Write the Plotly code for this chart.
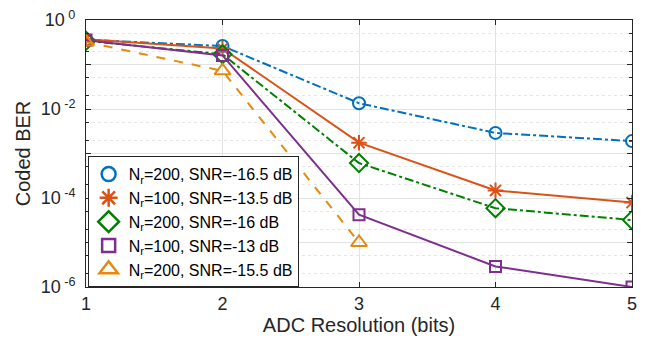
import plotly.graph_objects as go

# ADC resolution (bits) and coded BER for each configuration
bits = [1, 2, 3, 4, 5]
ber_200_m165 = [0.36, 0.26, 0.0135, 0.0029, 0.0019]
ber_100_m135 = [0.37, 0.23, 1.75e-3, 1.48e-4, 7.9e-5]
ber_200_m16 = [0.34, 0.17, 6.1e-4, 5.9e-5, 3.2e-5]
ber_100_m13 = [0.35, 0.16, 4.2e-5, 2.9e-6, 1.0e-6]
bits_short = [1, 2, 3]
ber_200_m155 = [0.32, 0.072, 1.0e-5]

labels = [
    "N<sub>r</sub>=200, SNR=-16.5 dB",
    "N<sub>r</sub>=100, SNR=-13.5 dB",
    "N<sub>r</sub>=200, SNR=-16 dB",
    "N<sub>r</sub>=100, SNR=-13 dB",
    "N<sub>r</sub>=200, SNR=-15.5 dB",
]
ytick_vals = [1e-6, 1e-5, 1e-4, 1e-3, 1e-2, 1e-1, 1e0]
ytick_text = ["10<sup> -6</sup>", "", "10<sup> -4</sup>", "", "10<sup> -2</sup>", "", "10<sup> 0</sup>"]

series = [
    (bits, ber_200_m165, "#0072BD", "dashdot", "circle-open", 12),
    (bits, ber_100_m135, "#D95319", "solid", "asterisk-open", 13),
    (bits, ber_200_m16, "#008000", "dashdot", "diamond-open", 14),
    (bits, ber_100_m13, "#7E2F8E", "solid", "square-open", 11),
    (bits_short, ber_200_m155, "#E8890C", "dash", "triangle-up-open", 14),
]

fig = go.Figure()
for (x, y, color, dash, symbol, size), name in zip(series, labels):
    fig.add_trace(go.Scatter(
        x=x, y=y, name=name, mode="lines+markers", showlegend=False,
        line=dict(color=color, width=2, dash=dash),
        marker=dict(symbol=symbol, size=size, color=color,
                    line=dict(color=color, width=2)),
    ))
    # marker-only legend entry
    fig.add_trace(go.Scatter(
        x=[None], y=[None], name=name, mode="markers",
        marker=dict(symbol=symbol, size=size + 2, color=color,
                    line=dict(color=color, width=2.5)),
    ))

font_family = "Liberation Sans, Arial, sans-serif"
fig.update_layout(
    width=645, height=343,
    margin=dict(l=86, r=8, t=17, b=56),
    paper_bgcolor="white", plot_bgcolor="white",
    font=dict(family=font_family, color="#262626"),
    showlegend=True,
    legend=dict(
        x=0.003, y=0.49, xanchor="left", yanchor="top",
        bgcolor="white", bordercolor="#262626", borderwidth=1,
        font=dict(size=16, color="#000000"),
        itemwidth=30, tracegroupgap=0,
    ),
    xaxis=dict(
        range=[1, 5], tickvals=bits, ticks="inside", ticklen=5,
        tickcolor="#262626", showline=True, linecolor="#262626", linewidth=1,
        mirror="ticks", showgrid=True, gridcolor="#E3E3E3", zeroline=False,
        tickfont=dict(size=18),
        title=dict(text="ADC Resolution (bits)", font=dict(size=20), standoff=4),
    ),
    yaxis=dict(
        type="log", range=[-6, 0], tickvals=ytick_vals, ticktext=ytick_text,
        ticks="inside", ticklen=5, tickcolor="#262626", ticklabelstandoff=6,
        showline=True, linecolor="#262626", linewidth=1, mirror="ticks",
        showgrid=True, gridcolor="#E3E3E3", zeroline=False,
        tickfont=dict(size=18),
        minor=dict(ticks="inside", ticklen=3, tickcolor="#262626",
                   showgrid=True, gridcolor="#E6E6E6", griddash="dot"),
        title=dict(text="Coded BER", font=dict(size=20), standoff=4),
    ),
)

fig.write_html("out.html")
